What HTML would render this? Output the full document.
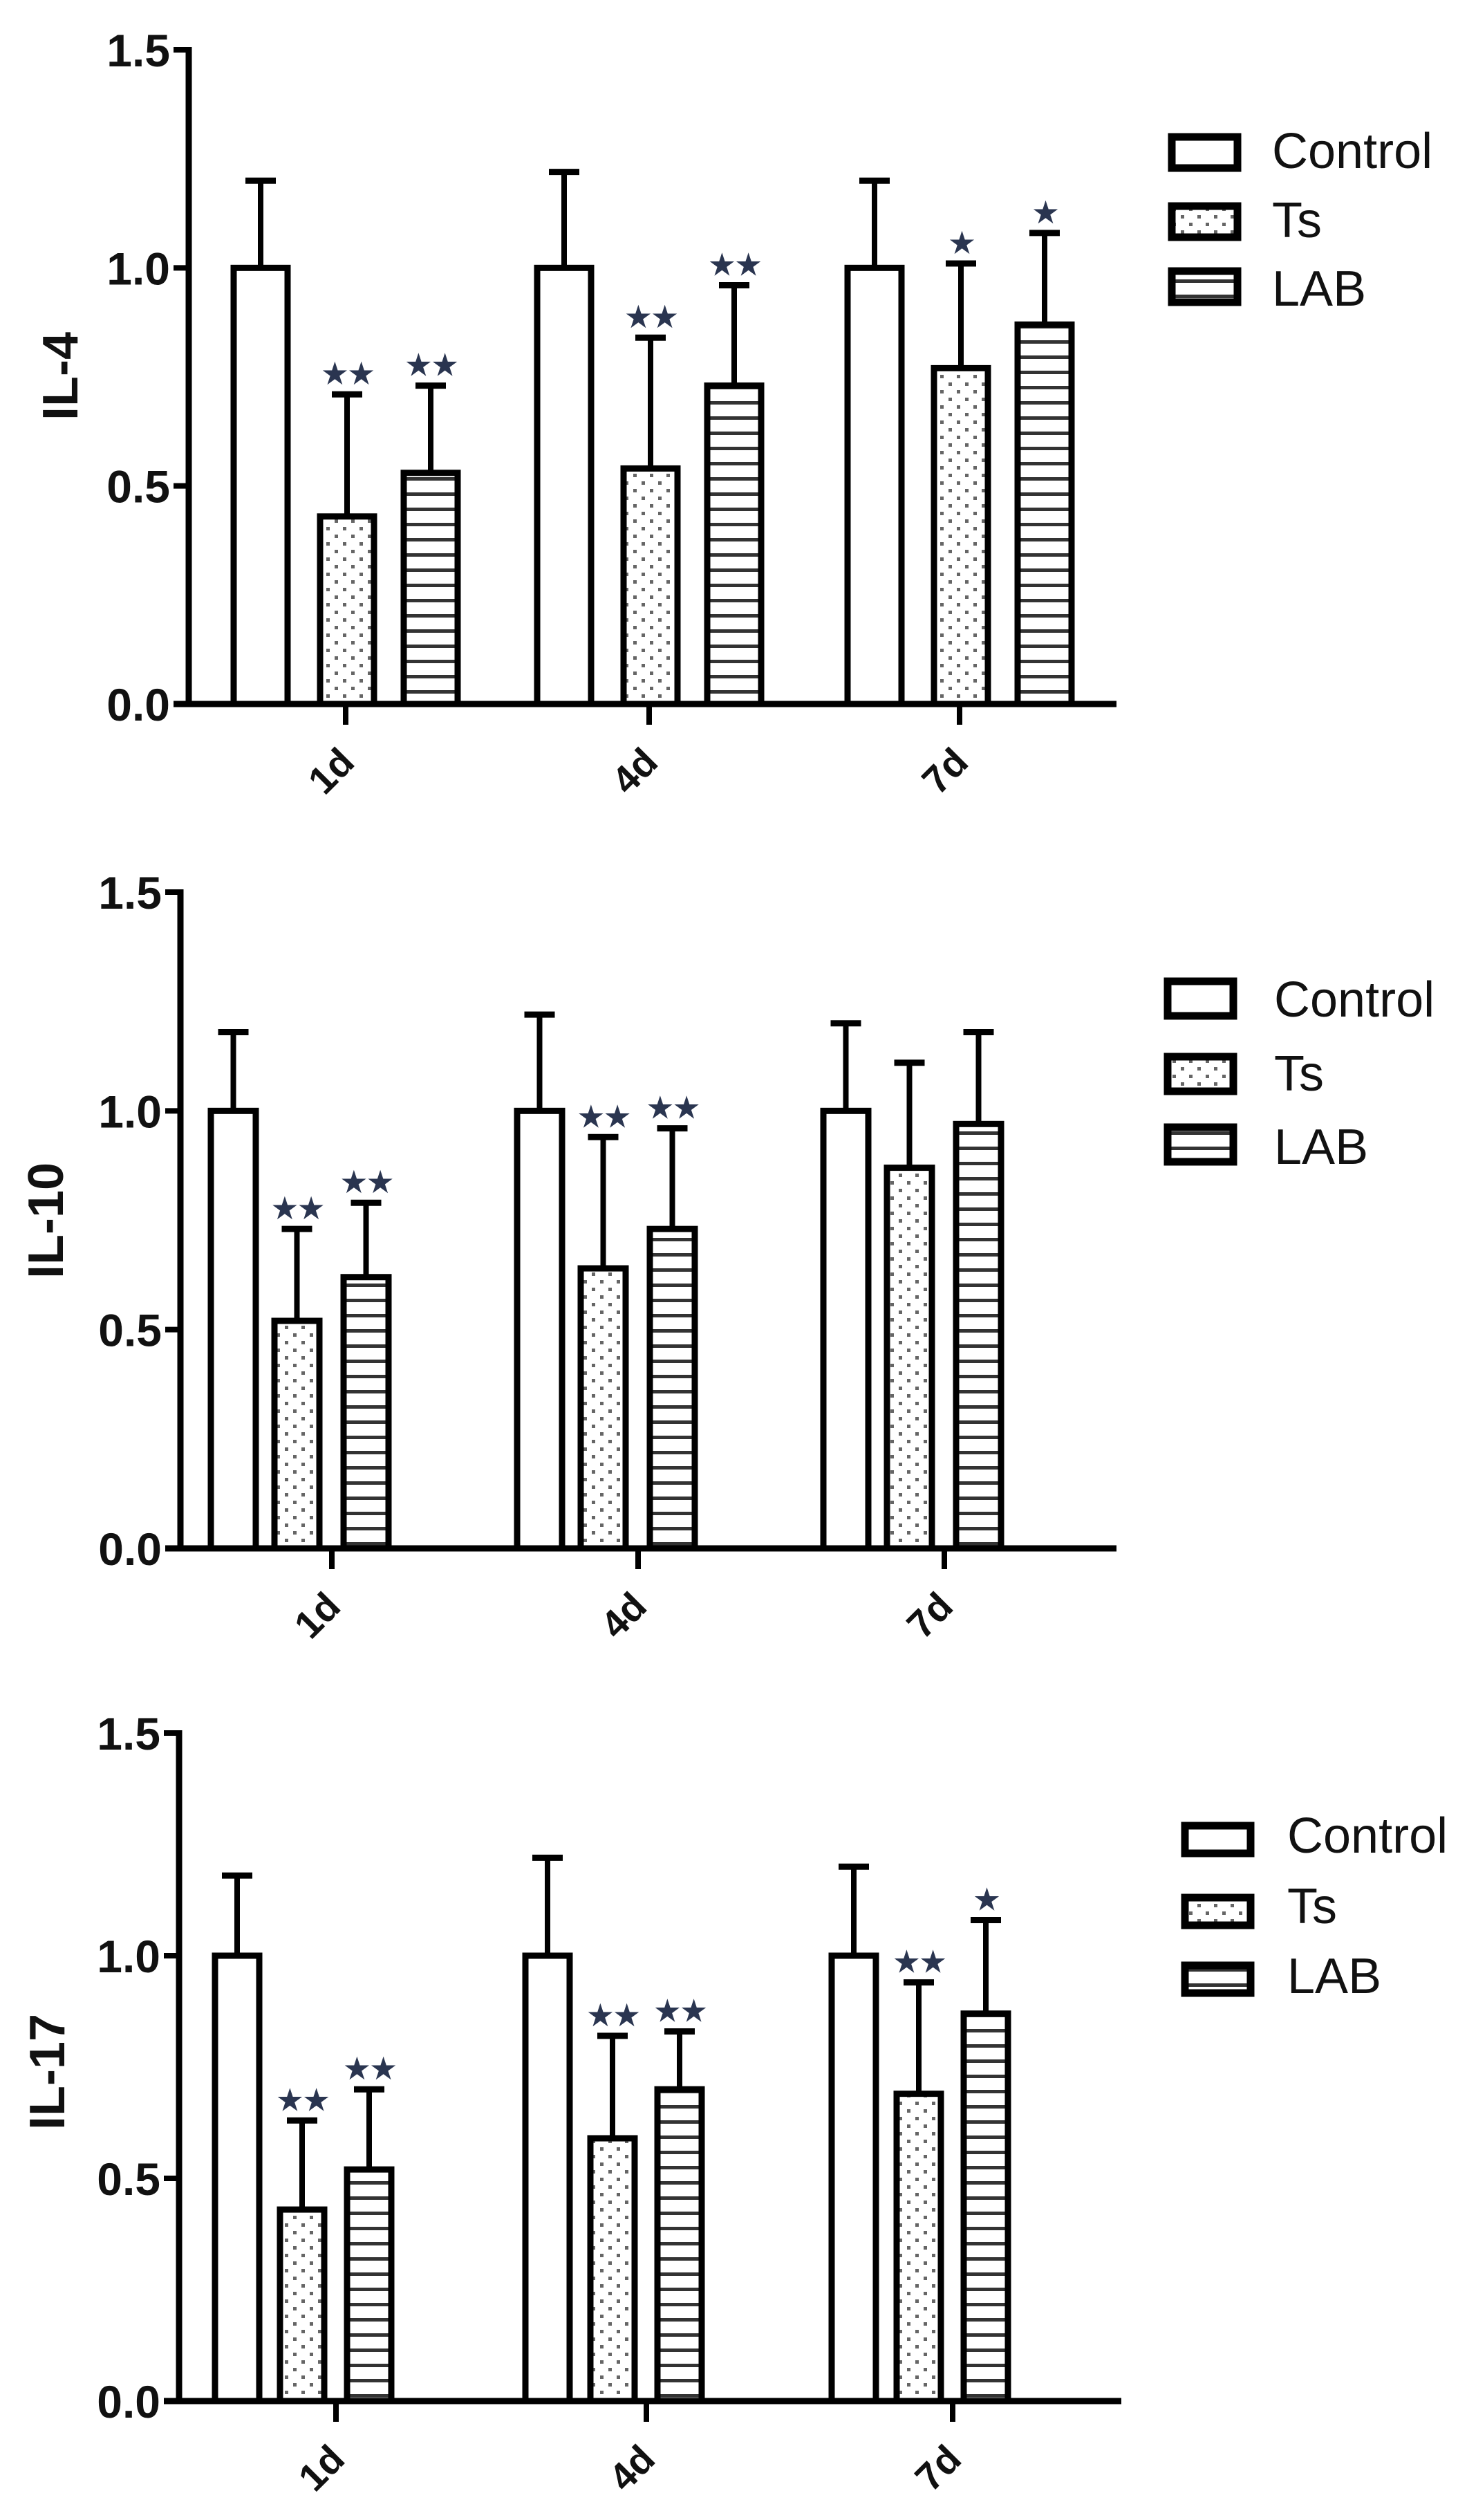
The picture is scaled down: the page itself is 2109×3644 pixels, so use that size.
<!DOCTYPE html>
<html><head><meta charset="utf-8"><style>
html,body{margin:0;padding:0;background:#fff;}
svg{display:block;}
text{font-family:"Liberation Sans",sans-serif;fill:#111;}
</style></head><body>
<svg id="fig" width="2109" height="3644" viewBox="0 0 2109 3644" xmlns="http://www.w3.org/2000/svg">
<defs>
<pattern id="dots" patternUnits="userSpaceOnUse" width="24" height="22">
<rect x="4" y="3" width="5" height="5" fill="#666"/>
<rect x="16" y="14" width="5" height="5" fill="#666"/>
</pattern>
<pattern id="hlines" patternUnits="userSpaceOnUse" width="20" height="22">
<rect x="0" y="8" width="20" height="5" fill="#333"/>
</pattern>
</defs>
</svg>
<script>
// ---- data ----
const categories = ['1d','4d','7d'];
const seriesNames = ['Control','Ts','LAB'];
const yTicks = [0.0,0.5,1.0,1.5];
const yTickLabels = ['0.0','0.5','1.0','1.5'];
const panelTitles = ['IL-4','IL-10','IL-17'];
// means [panel][series][category]
const il4Mean   = [[1.0,1.0,1.0],[0.43,0.54,0.77],[0.53,0.73,0.87]];
const il4Err    = [[1.2,1.22,1.2],[0.71,0.84,1.01],[0.73,0.96,1.08]];
const il4Stars  = [['','',''],['**','**','*'],['**','**','*']];
const il10Mean  = [[1.0,1.0,1.0],[0.52,0.64,0.87],[0.62,0.73,0.97]];
const il10Err   = [[1.18,1.22,1.2],[0.73,0.94,1.11],[0.79,0.96,1.18]];
const il10Stars = [['','',''],['**','**',''],['**','**','']];
const il17Mean  = [[1.0,1.0,1.0],[0.43,0.59,0.69],[0.52,0.70,0.87]];
const il17Err   = [[1.18,1.22,1.2],[0.63,0.82,0.94],[0.70,0.83,1.08]];
const il17Stars = [['','',''],['**','**','**'],['**','**','*']];

const means = [il4Mean, il10Mean, il17Mean];
const errs = [il4Err, il10Err, il17Err];
const stars = [il4Stars, il10Stars, il17Stars];

// ---- layout ----
const layouts = [
 {ax:273,y0:1018,y15:72,xEnd:1615,ticks:[500,939,1388],off:[-162,-37,84],bw:78,tx:93,ty:544,
  lx:1690,lbox:[193,293,387],lbh:55,lbase:[243,343,442],ltx:1840},
 {ax:261,y0:2239,y15:1290,xEnd:1615,ticks:[480,923,1366],off:[-175,-83,17],bw:65,tx:72,ty:1765,
  lx:1684,lbox:[1414,1523,1625],lbh:60,lbase:[1470,1577,1683],ltx:1843},
 {ax:259,y0:3472,y15:2506,xEnd:1622,ticks:[486,935,1378],off:[-175,-81,16],bw:64,tx:74,ty:2996,
  lx:1709,lbox:[2635,2739,2837],lbh:50,lbase:[2679,2781,2882],ltx:1862}
];
const fills = ['#fff','url(#dots)','url(#hlines)'];
const NS='http://www.w3.org/2000/svg';
const svg=document.getElementById('fig');
function mk(tag,attrs,parent){const e=document.createElementNS(NS,tag);for(const k in attrs)e.setAttribute(k,attrs[k]);(parent||svg).appendChild(e);return e;}

layouts.forEach((L,p)=>{
  const g=mk('g',{});
  
  
  const yScale=v=>L.y0-(L.y0-L.y15)*v/1.5;
  for(let s=0;s<3;s++){
    for(let c=0;c<3;c++){
      const x=L.ticks[c]+L.off[s];
      const v=means[p][s][c], e=errs[p][s][c];
      const yt=yScale(v), ye=yScale(e), cx=x+L.bw/2;
      const ln=mk('line',{x1:cx,x2:cx,y1:ye,y2:yt,stroke:'#000','stroke-width':8},g);
      
      
      const cap=mk('line',{x1:cx-22,x2:cx+22,y1:ye,y2:ye,stroke:'#000','stroke-width':9},g);
      
      
      const r=mk('rect',{x:x,y:yt,width:L.bw,height:L.y0-yt,fill:fills[s],stroke:'#000','stroke-width':9},g);
      
      
      if(stars[p][s][c]){
        const t=mk('text',{x:cx,y:ye-14,'text-anchor':'middle','font-size':46,style:'font-family:"DejaVu Sans",sans-serif;fill:#2a3550;letter-spacing:-3px'},g);
        t.textContent=stars[p][s][c]==='**'?'★★':'★';
        
        
      }
    }
  }
  const ya=mk('line',{x1:L.ax,x2:L.ax,y1:L.y15-4,y2:L.y0+4,stroke:'#000','stroke-width':9},g);
  
  
  const xa=mk('line',{x1:L.ax-22,x2:L.xEnd,y1:L.y0,y2:L.y0,stroke:'#000','stroke-width':9},g);
  
  
  yTicks.forEach((v,i)=>{
    const y=yScale(v);
    const tk=mk('line',{x1:L.ax-22,x2:L.ax,y1:y,y2:y,stroke:'#000','stroke-width':8},g);
    
    
    const t=mk('text',{x:L.ax-27,y:y+24,'text-anchor':'end','font-size':66,'font-weight':'bold'},g);
    t.textContent=yTickLabels[i];
    
    
  });
  categories.forEach((c,i)=>{
    const x=L.ticks[i];
    const tk=mk('line',{x1:x,x2:x,y1:L.y0,y2:L.y0+30,stroke:'#000','stroke-width':8},g);
    
    
    const t=mk('text',{x:x-18,y:L.y0+100,'text-anchor':'middle','dominant-baseline':'middle','font-size':56,'font-weight':'bold',transform:`rotate(-45 ${x-18} ${L.y0+100})`},g);
    t.textContent=c;
    
    
  });
  const tt=mk('text',{x:L.tx,y:L.ty,'text-anchor':'middle','dominant-baseline':'middle','font-size':72,'font-weight':'bold',transform:`rotate(-90 ${L.tx} ${L.ty})`},g);
  tt.textContent=panelTitles[p];
  
  
  for(let s=0;s<3;s++){
    const r=mk('rect',{x:L.lx+5,y:L.lbox[s]+5,width:95,height:L.lbh-10,fill:fills[s],stroke:'#000','stroke-width':11},g);
    
    
    const t=mk('text',{x:L.ltx,y:L.lbase[s],'font-size':72},g);
    t.textContent=seriesNames[s];
    
    
  }
});
</script>
</body></html>
